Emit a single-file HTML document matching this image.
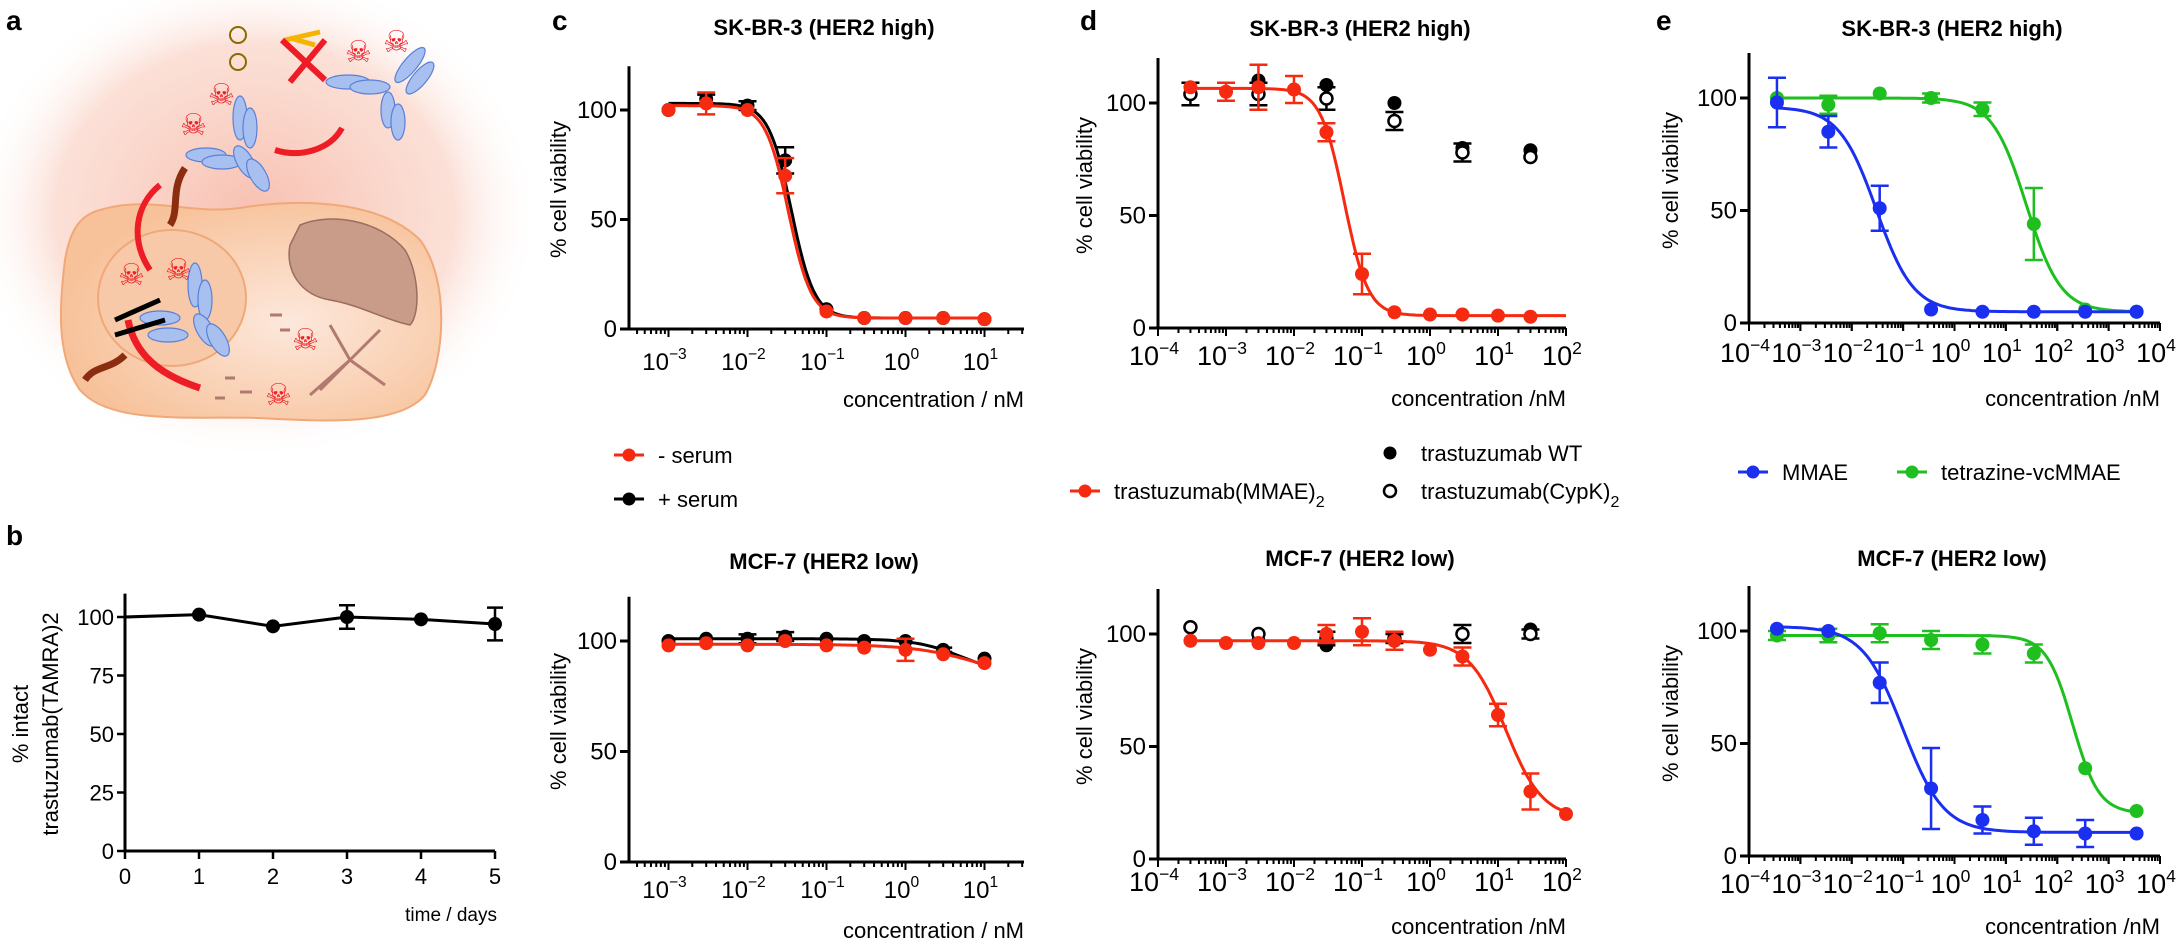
<!DOCTYPE html>
<html><head><meta charset="utf-8"><style>
html,body{margin:0;padding:0;background:#fff;}
svg{display:block;font-family:"Liberation Sans",Arial,sans-serif;}
</style></head><body>
<svg id="fig" width="2183" height="941" viewBox="0 0 2183 941" xmlns="http://www.w3.org/2000/svg">
<defs>
<radialGradient id="glow" cx="0.5" cy="0.5" r="0.5">
<stop offset="0" stop-color="#f7b9a8" stop-opacity="0.9"/>
<stop offset="0.7" stop-color="#fad3c6" stop-opacity="0.7"/>
<stop offset="1" stop-color="#ffffff" stop-opacity="0"/>
</radialGradient>
<radialGradient id="cellg" cx="0.6" cy="0.55" r="0.6">
<stop offset="0" stop-color="#fde8dc"/>
<stop offset="1" stop-color="#f7c29a"/>
</radialGradient>
</defs>
<g>
<ellipse cx="255" cy="215" rx="285" ry="245" fill="url(#glow)"/>
<path d="M100,210 C150,195 190,215 240,208 C300,198 380,200 420,240 C450,280 445,360 425,395 C400,425 330,422 260,418 C190,416 110,425 80,390 C55,355 60,300 65,260 C70,230 80,215 100,210 Z" fill="url(#cellg)" stroke="#f0a878" stroke-width="2"/>
<ellipse cx="172" cy="298" rx="74" ry="68" fill="#f8c9a8" stroke="#f0a878" stroke-width="2"/>
<path d="M300,225 C330,212 380,220 405,250 C420,275 420,315 410,325 C385,320 360,305 330,300 C300,295 285,270 290,245 Z" fill="#c89c88" stroke="#9c6c60" stroke-width="1.5"/>
<g fill="#a8c0f0" stroke="#5a7fd6" stroke-width="1.2">
<ellipse cx="348" cy="82" rx="22" ry="7"/><ellipse cx="370" cy="87" rx="20" ry="7"/>
<ellipse cx="410" cy="65" rx="7" ry="22" transform="rotate(40 410 65)"/><ellipse cx="420" cy="78" rx="7" ry="20" transform="rotate(40 420 78)"/>
<ellipse cx="388" cy="110" rx="7" ry="18"/><ellipse cx="398" cy="122" rx="7" ry="18"/>
<ellipse cx="206" cy="155" rx="20" ry="7"/><ellipse cx="222" cy="162" rx="20" ry="7"/>
<ellipse cx="240" cy="118" rx="7" ry="22"/><ellipse cx="250" cy="128" rx="7" ry="20"/>
<ellipse cx="245" cy="162" rx="8" ry="18" transform="rotate(-30 245 162)"/><ellipse cx="258" cy="175" rx="8" ry="18" transform="rotate(-30 258 175)"/>
<ellipse cx="160" cy="318" rx="20" ry="7"/><ellipse cx="168" cy="335" rx="20" ry="7"/>
<ellipse cx="195" cy="285" rx="7" ry="22"/><ellipse cx="205" cy="300" rx="7" ry="20"/>
<ellipse cx="205" cy="330" rx="8" ry="18" transform="rotate(-30 205 330)"/><ellipse cx="218" cy="340" rx="8" ry="18" transform="rotate(-30 218 340)"/>
</g>
<g fill="#ee1c25" font-family="DejaVu Sans" font-size="30">
<text x="345" y="62">☠</text><text x="383" y="52">☠</text><text x="208" y="105">☠</text><text x="180" y="135">☠</text>
<text x="118" y="285">☠</text><text x="165" y="280">☠</text><text x="292" y="350">☠</text><text x="265" y="405">☠</text>
</g>
<path d="M342,128 C330,150 300,158 275,150" fill="none" stroke="#ee1c25" stroke-width="6"/>
<path d="M160,185 C135,205 130,240 150,270" fill="none" stroke="#ee1c25" stroke-width="6"/>
<path d="M128,320 C135,355 160,375 200,388" fill="none" stroke="#ee1c25" stroke-width="7"/>
<path d="M285,40 L320,32 M290,38 L315,45" stroke="#f4b400" stroke-width="5"/>
<circle cx="238" cy="35" r="8" fill="none" stroke="#8a6a00" stroke-width="2"/><circle cx="238" cy="62" r="8" fill="none" stroke="#8a6a00" stroke-width="2"/>
<path d="M282,40 L325,80 M325,40 L290,82" stroke="#ee1c25" stroke-width="6"/>
<path d="M115,320 L160,300 M115,335 L165,320" stroke="#000" stroke-width="5"/>
<path d="M185,168 C170,190 180,210 170,225 M125,355 C110,370 95,365 85,380" stroke="#8b2e0f" stroke-width="7" fill="none"/>
<path d="M320,390 L350,360 M350,360 L380,330 M350,360 L385,385 M350,360 L310,395 M350,360 L330,325" stroke="#b07a70" stroke-width="3" fill="none"/>
<path d="M270,315 h12 M280,330 h10 M225,378 h10 M240,392 h12 M215,398 h10" stroke="#b07a70" stroke-width="3"/>
</g>
<text x="6" y="30" font-size="28" font-weight="bold">a</text>
<text x="6" y="545" font-size="28" font-weight="bold">b</text>
<text x="552" y="30" font-size="28" font-weight="bold">c</text>
<text x="1080" y="30" font-size="28" font-weight="bold">d</text>
<text x="1656" y="30" font-size="28" font-weight="bold">e</text>
<g id="charts"></g>
</svg>
<script>
// ---------- data ----------
const bDays = [0,1,2,3,4,5];
const bValues = [100,101,96,100,99,97];
const bErrors = [0,0,0,5,0,7];
const bYTicks = [0,25,50,75,100];

const cConc = [0.001,0.003,0.01,0.03,0.1,0.3,1,3,10];
const cTopMinus = [100,103,100,70,8,5,5,5,4.5];
const cTopMinusErr = [0,5,0,8,0,0,0,0,0];
const cTopPlus = [100,105,102,77,9,5,5,5,4.5];
const cTopPlusErr = [0,2,2,6,0,0,0,0,0];
const cTopMinusFit = [102,5,0.033,3];
const cTopPlusFit = [103,5,0.036,3];
const cBotMinus = [98,99,98,100,98,97,96,94,90];
const cBotMinusErr = [0,0,0,0,0,0,5,0,0];
const cBotPlus = [100,101,101,102,101,100,100,96,92];
const cBotPlusErr = [0,0,2,2,0,0,0,1,0];
const cBotMinusFit = [98.5,80,10,1];
const cBotPlusFit = [101,85,5,1.5];

const dConc = [0.0003,0.001,0.003,0.01,0.03,0.1,0.3,1,3,10,30,100];
const dTopMMAE = [107,105,107,106,87,24,7,6,6,5.5,5,null];
const dTopMMAEErr = [0,4,10,6,4,9,0,0,0,0,0,0];
const dTopMMAEFit = [106.5,5.5,0.055,2.5];
const dWTConc = [0.0003,0.003,0.03,0.3,3,30];
const dTopWT = [104,110,108,100,80,79];
const dTopCyp = [104,104,102,92,78,76];
const dTopCypErr = [5,5,5,4,4,0];
const dBotMMAE = [97,96,96,96,100,101,97,93,90,64,30,20];
const dBotMMAEErr = [0,0,0,0,4,6,4,0,4,5,8,0];
const dBotMMAEFit = [97,18,13,1.6];
const dBotWT = [null,97,95,97,100,102];
const dBotCyp = [103,100,98,98,100,100];
const dBotCypErr = [0,0,3,2,4,2];

const eConc = [0.00035,0.0035,0.035,0.35,3.5,35,350,3500];
const eTopMMAE = [98,85,51,6,5,5,5,5];
const eTopMMAEErr = [11,7,10,0,0,0,0,0];
const eTopMMAEFit = [96,5,0.03,1.2];
const eTopTz = [100,97,102,100,95,44,6,5];
const eTopTzErr = [0,4,0,2,3,16,0,0];
const eTopTzFit = [100,5,25,1.3];
const eBotMMAE = [101,100,77,30,16,11,10,10];
const eBotMMAEErr = [0,0,9,18,6,6,6,0];
const eBotMMAEFit = [102,10.5,0.1,1.1];
const eBotTz = [98,98,99,96,94,90,39,20];
const eBotTzErr = [2,3,4,4,4,4,0,0];
const eBotTzFit = [98,19,200,1.7];

const viabTicks = [0,50,100];

// ---------- drawing ----------
const NS = "http://www.w3.org/2000/svg";
const root = document.getElementById('charts');
function mk(tag, attrs, parent){
  const el = document.createElementNS(NS, tag);
  for (const k in attrs) el.setAttribute(k, attrs[k]);
  (parent||root).appendChild(el);
  return el;
}
function logistic(p, x){ return p[1] + (p[0]-p[1])/(1+Math.pow(x/p[2], p[3])); }

function makeLogPanel(cfg){
  const g = mk('g', {});
  
  
  const sx = v => cfg.x0 + (Math.log10(v) - cfg.dmin) / (cfg.dmax - cfg.dmin) * (cfg.x1 - cfg.x0);
  const sy = v => cfg.y0 - v * (cfg.y0 - cfg.y100) / 100;
  // title
  const t = mk('text', {x: cfg.tx, y: cfg.ty, 'font-size': 22, 'font-weight': 'bold', 'text-anchor': 'middle'}, g);
  t.textContent = cfg.title;
  
  
  // axes
  const ya = mk('line', {x1: cfg.x0, x2: cfg.x0, y1: sy(120), y2: cfg.y0 + 1.5, stroke: '#000', 'stroke-width': 3}, g);
  
  
  const xa = mk('line', {x1: cfg.x0 - 1.5, x2: cfg.x1, y1: cfg.y0, y2: cfg.y0, stroke: '#000', 'stroke-width': 3}, g);
  
  
  viabTicks.forEach(v => {
    mk('line', {x1: cfg.x0 - 9, x2: cfg.x0, y1: sy(v), y2: sy(v), stroke: '#000', 'stroke-width': 3}, g);
    const tl = mk('text', {x: cfg.x0 - 12, y: sy(v) + 8, 'font-size': 24, 'text-anchor': 'end'}, g);
    tl.textContent = v;
    
    
  });
  for (let d = Math.floor(cfg.dmin); d < Math.ceil(cfg.dmax); d++){
    for (let k = 1; k <= 9; k++){
      const lv = d + Math.log10(k);
      if (lv < cfg.dmin - 1e-9 || lv > cfg.dmax + 1e-9) continue;
      const px = sx(Math.pow(10, lv));
      mk('line', {x1: px, x2: px, y1: cfg.y0, y2: cfg.y0 + (k === 1 ? 8 : 5), stroke: '#000', 'stroke-width': 2}, g);
    }
  }
  for (let d = Math.ceil(cfg.dmin); d <= Math.floor(cfg.dmax); d++){
    const px = sx(Math.pow(10, d));
    mk('line', {x1: px, x2: px, y1: cfg.y0, y2: cfg.y0 + 8, stroke: '#000', 'stroke-width': 2}, g);
    const tl = mk('text', {x: px - 4, y: cfg.ly, 'font-size': cfg.tfs, 'text-anchor': 'middle'}, g);
    
    
    const a = mk('tspan', {}, tl); a.textContent = '10';
    const b = mk('tspan', {dy: -11, 'font-size': cfg.tfs * 0.65}, tl); b.textContent = String(d).replace('-', '\u2212');
  }
  const yt = mk('text', {x: cfg.ylx, y: (cfg.y0 + cfg.y100) / 2 - 30, 'font-size': 22, 'text-anchor': 'middle', transform: `rotate(-90 ${cfg.ylx} ${(cfg.y0 + cfg.y100)/2 - 30})`}, g);
  yt.textContent = '% cell viability';
  
  
  const xt = mk('text', {x: cfg.x1, y: cfg.xty, 'font-size': 22, 'text-anchor': 'end'}, g);
  xt.textContent = cfg.xtitle;
  
  

  cfg.series.forEach(s => {
    const sg = mk('g', {}, g);
    
    
    if (s.fit){
      let d = '';
      const lo = Math.log10(s.conc[0]), hi = Math.log10(s.conc[s.conc.length - 1]);
      for (let i = 0; i <= 120; i++){
        const lv = lo + (hi - lo) * i / 120, xv = Math.pow(10, lv);
        d += (i ? 'L' : 'M') + sx(xv).toFixed(1) + ',' + sy(logistic(s.fit, xv)).toFixed(1);
      }
      const p = mk('path', {d: d, fill: 'none', stroke: s.color, 'stroke-width': 3}, sg);
      
      
    }
    s.vals.forEach((v, i) => {
      if (v === null || v === undefined) return;
      const px = sx(s.conc[i]), py = sy(v);
      const e = s.err ? s.err[i] : 0;
      if (e > 0){
        mk('path', {d: `M${px},${sy(v+e)}V${sy(v-e)}M${px-9},${sy(v+e)}h18M${px-9},${sy(v-e)}h18`, stroke: s.color, 'stroke-width': 2.5, fill: 'none'}, sg);
      }
      const c = mk('circle', {cx: px, cy: py, r: s.open ? 6 : 7, fill: s.open ? '#fff' : s.color, stroke: s.color, 'stroke-width': s.open ? 2.5 : 0}, sg);
      
      
    });
  });
}

const cBase = {x0: 629, x1: 1024, dmin: -3.5, dmax: 1.5, tx: 824, tfs: 24, ylx: 566, xtitle: 'concentration / nM'};
makeLogPanel(Object.assign({}, cBase, {name: 'chart-c-skbr3', title: 'SK-BR-3 (HER2 high)', ty: 35, y0: 329, y100: 110, ly: 370, xty: 407,
  series: [
    {name: 'series-plus-serum', conc: cConc, vals: cTopPlus, err: cTopPlusErr, fit: cTopPlusFit, color: '#000'},
    {name: 'series-minus-serum', conc: cConc, vals: cTopMinus, err: cTopMinusErr, fit: cTopMinusFit, color: '#f52a10'}]}));
makeLogPanel(Object.assign({}, cBase, {name: 'chart-c-mcf7', title: 'MCF-7 (HER2 low)', ty: 569, y0: 862, y100: 641, ly: 898, xty: 938,
  series: [
    {name: 'series-plus-serum', conc: cConc, vals: cBotPlus, err: cBotPlusErr, fit: cBotPlusFit, color: '#000'},
    {name: 'series-minus-serum', conc: cConc, vals: cBotMinus, err: cBotMinusErr, fit: cBotMinusFit, color: '#f52a10'}]}));

const dBase = {x0: 1158, x1: 1566, dmin: -4, dmax: 2, tx: 1360, tfs: 27, ylx: 1092, xtitle: 'concentration /nM'};
makeLogPanel(Object.assign({}, dBase, {name: 'chart-d-skbr3', title: 'SK-BR-3 (HER2 high)', ty: 36, y0: 328, y100: 103, ly: 365, xty: 406,
  series: [
    {name: 'series-trastuzumab-wt', conc: dWTConc, vals: dTopWT, err: null, color: '#000'},
    {name: 'series-trastuzumab-cypk', conc: dWTConc, vals: dTopCyp, err: dTopCypErr, color: '#000', open: true},
    {name: 'series-trastuzumab-mmae', conc: dConc, vals: dTopMMAE, err: dTopMMAEErr, fit: dTopMMAEFit, color: '#f52a10'}]}));
makeLogPanel(Object.assign({}, dBase, {name: 'chart-d-mcf7', title: 'MCF-7 (HER2 low)', ty: 566, y0: 859, y100: 634, ly: 891, xty: 934,
  series: [
    {name: 'series-trastuzumab-wt', conc: dWTConc, vals: dBotWT, err: null, color: '#000'},
    {name: 'series-trastuzumab-cypk', conc: dWTConc, vals: dBotCyp, err: dBotCypErr, color: '#000', open: true},
    {name: 'series-trastuzumab-mmae', conc: dConc, vals: dBotMMAE, err: dBotMMAEErr, fit: dBotMMAEFit, color: '#f52a10'}]}));

const eBase = {x0: 1749, x1: 2160, dmin: -4, dmax: 4, tx: 1952, tfs: 27, ylx: 1678, xtitle: 'concentration /nM'};
makeLogPanel(Object.assign({}, eBase, {name: 'chart-e-skbr3', title: 'SK-BR-3 (HER2 high)', ty: 36, y0: 323, y100: 98, ly: 362, xty: 406,
  series: [
    {name: 'series-tetrazine-vcmmae', conc: eConc, vals: eTopTz, err: eTopTzErr, fit: eTopTzFit, color: '#1fbf1f'},
    {name: 'series-mmae', conc: eConc, vals: eTopMMAE, err: eTopMMAEErr, fit: eTopMMAEFit, color: '#1a2ff0'}]}));
makeLogPanel(Object.assign({}, eBase, {name: 'chart-e-mcf7', title: 'MCF-7 (HER2 low)', ty: 566, y0: 856, y100: 631, ly: 893, xty: 934,
  series: [
    {name: 'series-tetrazine-vcmmae', conc: eConc, vals: eBotTz, err: eBotTzErr, fit: eBotTzFit, color: '#1fbf1f'},
    {name: 'series-mmae', conc: eConc, vals: eBotMMAE, err: eBotMMAEErr, fit: eBotMMAEFit, color: '#1a2ff0'}]}));

// ---------- panel b ----------
(function(){
  const g = mk('g', {});
  
  
  const x0 = 125, x1 = 495, y0 = 851, y100 = 617;
  const sx = v => x0 + v / 5 * (x1 - x0);
  const sy = v => y0 - v * (y0 - y100) / 100;
  mk('line', {x1: x0, x2: x0, y1: sy(110), y2: y0 + 1.5, stroke: '#000', 'stroke-width': 3}, g);
  mk('line', {x1: x0, x2: x1, y1: y0, y2: y0, stroke: '#000', 'stroke-width': 3}, g);
  bYTicks.forEach(v => {
    mk('line', {x1: x0 - 8, x2: x0, y1: sy(v), y2: sy(v), stroke: '#000', 'stroke-width': 2.5}, g);
    const t = mk('text', {x: x0 - 11, y: sy(v) + 8, 'font-size': 22, 'text-anchor': 'end'}, g);
    t.textContent = v;
    
    
  });
  bDays.forEach(v => {
    mk('line', {x1: sx(v), x2: sx(v), y1: y0, y2: y0 + 8, stroke: '#000', 'stroke-width': 2.5}, g);
    const t = mk('text', {x: sx(v), y: 884, 'font-size': 22, 'text-anchor': 'middle'}, g);
    t.textContent = v;
    
    
  });
  const xt = mk('text', {x: 497, y: 921, 'font-size': 19, 'text-anchor': 'end'}, g);
  xt.textContent = 'time / days';
  
  
  const yt = mk('text', {x: 0, y: 0, 'font-size': 22, 'text-anchor': 'middle', transform: 'translate(28,724) rotate(-90)'}, g);
  yt.textContent = '% intact';
  
  
  const yt2 = mk('text', {x: 0, y: 0, 'font-size': 22, 'text-anchor': 'middle', transform: 'translate(58,724) rotate(-90)'}, g);
  yt2.textContent = 'trastuzumab(TAMRA)2';
  
  
  let d = '';
  bDays.forEach((v, i) => { d += (i ? 'L' : 'M') + sx(v) + ',' + sy(bValues[i]); });
  const line = mk('path', {d: d, fill: 'none', stroke: '#000', 'stroke-width': 3}, g);
  
  
  bDays.forEach((v, i) => {
    const e = bErrors[i], px = sx(v), val = bValues[i];
    if (e > 0) mk('path', {d: `M${px},${sy(val+e)}V${sy(val-e)}M${px-8},${sy(val+e)}h16M${px-8},${sy(val-e)}h16`, stroke: '#000', 'stroke-width': 2.5, fill: 'none'}, g);
    if (i > 0){
      const c = mk('circle', {cx: px, cy: sy(val), r: 7, fill: '#000'}, g);
      
      
    }
  });
})();

// ---------- legends ----------
function legendLine(x, y, color, label, name){
  const g = mk('g', {});
  
  
  mk('line', {x1: x, x2: x + 30, y1: y, y2: y, stroke: color, 'stroke-width': 3}, g);
  mk('circle', {cx: x + 15, cy: y, r: 6.5, fill: color}, g);
  const t = mk('text', {x: x + 44, y: y + 8, 'font-size': 22}, g);
  t.textContent = label;
  return t;
}
legendLine(614, 455, '#f52a10', '- serum', 'legend-minus-serum');
legendLine(614, 499, '#000', '+ serum', 'legend-plus-serum');
const lm = legendLine(1070, 491, '#f52a10', 'trastuzumab(MMAE)', 'legend-trastuzumab-mmae');
const s1 = mk('tspan', {dy: 8, 'font-size': 16}, lm); s1.textContent = '2';
(function(){
  const g = mk('g', {});
  
  
  mk('circle', {cx: 1390, cy: 453, r: 6.5, fill: '#000'}, g);
  const t = mk('text', {x: 1421, y: 461, 'font-size': 22}, g); t.textContent = 'trastuzumab WT';
  const g2 = mk('g', {});
  
  
  mk('circle', {cx: 1390, cy: 491, r: 6, fill: '#fff', stroke: '#000', 'stroke-width': 2.5}, g2);
  const t2 = mk('text', {x: 1421, y: 499, 'font-size': 22}, g2); t2.textContent = 'trastuzumab(CypK)';
  const s = mk('tspan', {dy: 8, 'font-size': 16}, t2); s.textContent = '2';
})();
legendLine(1738, 472, '#1a2ff0', 'MMAE', 'legend-mmae');
legendLine(1897, 472, '#1fbf1f', 'tetrazine-vcMMAE', 'legend-tetrazine-vcmmae');
</script>
</body></html>
